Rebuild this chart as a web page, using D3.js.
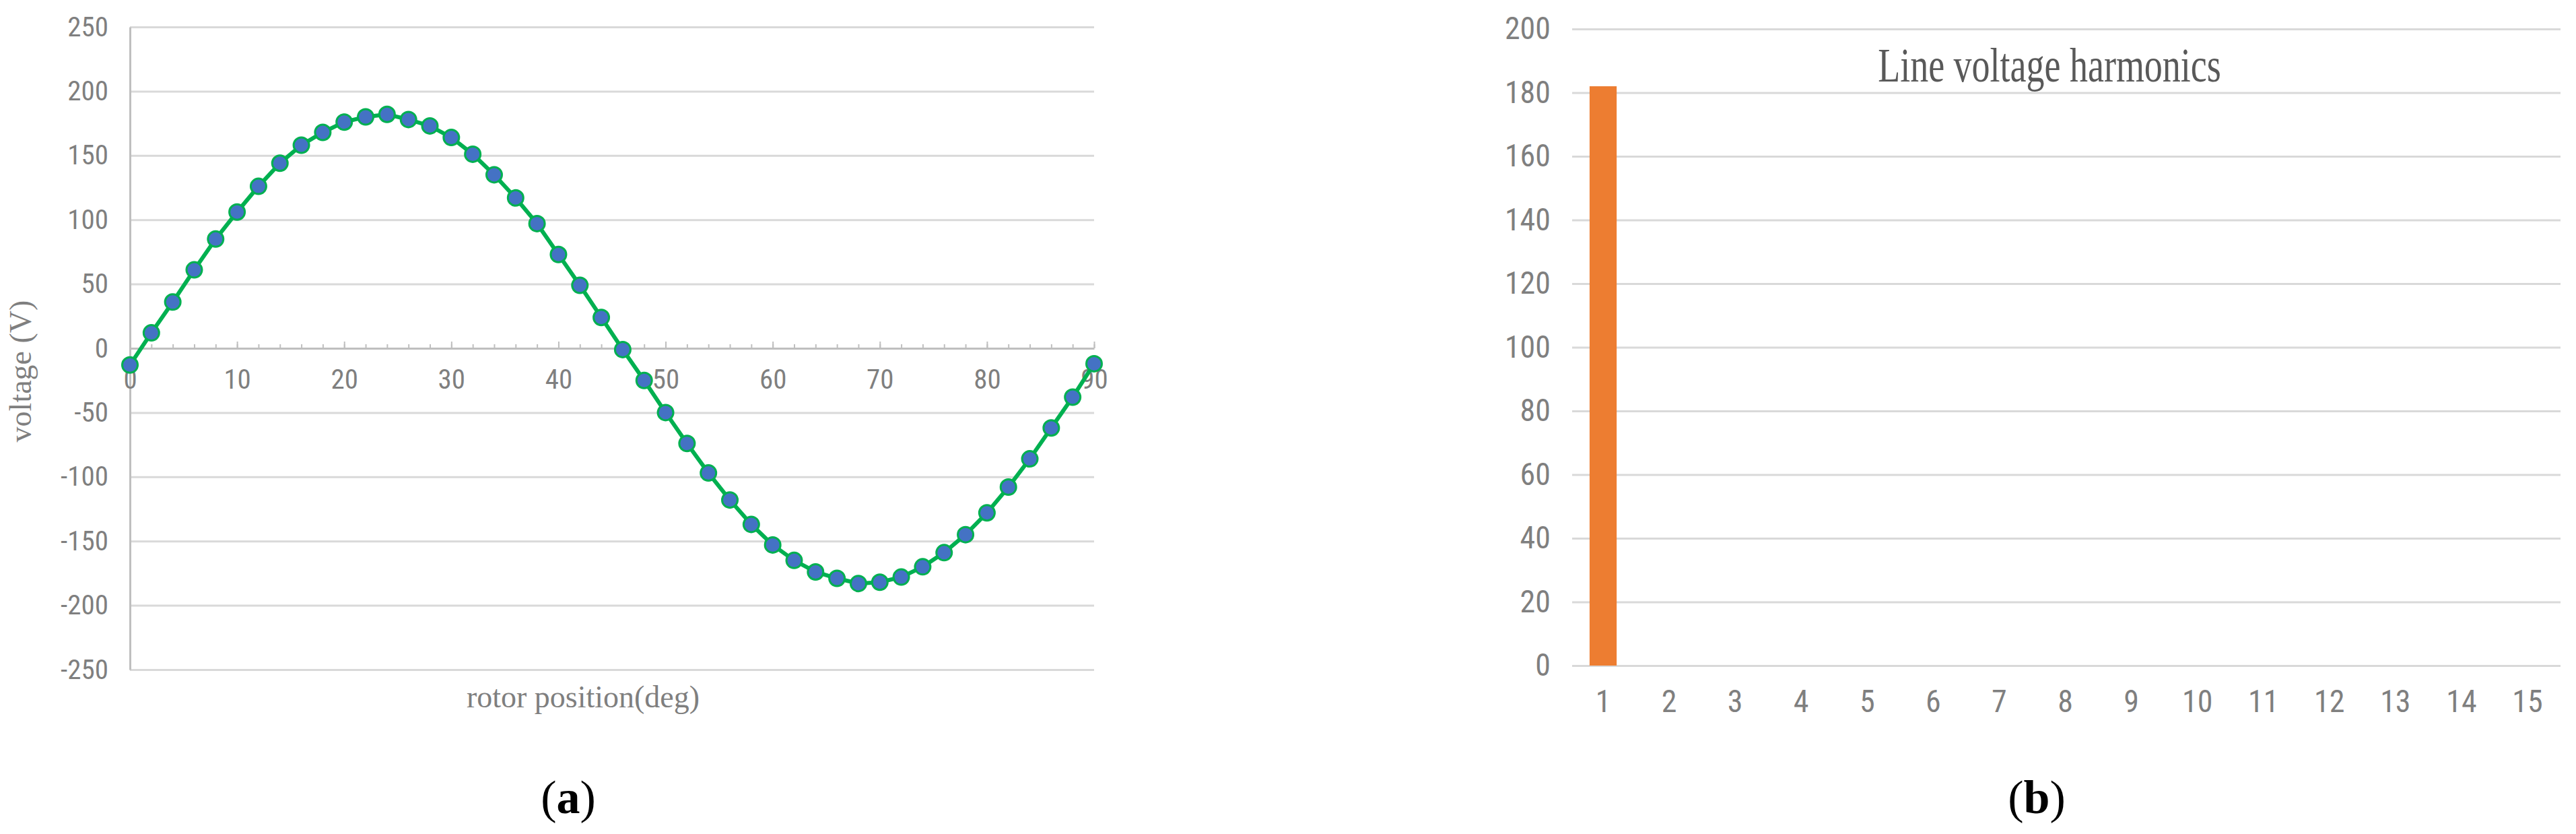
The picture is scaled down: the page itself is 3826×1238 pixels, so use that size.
<html>
  <head>
    <meta charset="utf-8">
    <script src="https://d3js.org/d3.v7.min.js"></script>
    <style>
      body { margin: 0; background: #fff; }
    </style>
  </head>
  <body>
    <script>
      // data
      var degrees = [0,2,4,6,8,10,12,14,16,18,20,22,24,26,28,30,32,34,36,38,40,42,44,
                     46,48,50,52,54,56,58,60,62,64,66,68,70,72,74,76,78,80,82,84,86,88,90]
      var voltage = [-13,12,36,61,85,106,126,144,158,168,176,180,182,178,173,164,151,135,117,97,73,49,24,
                     -1,-25,-50,-74,-97,-118,-137,-153,-165,-174,-179,-183,-182,-178,-170,-159,-145,-128,-108,-86,-62,-38,-12]
      var voltTicks = [-250,-200,-150,-100,-50,0,50,100,150,200,250]
      var degMajor = [0,10,20,30,40,50,60,70,80,90]
      var degMinor = d3.range(0, 91, 2)

      var orders = [1,2,3,4,5,6,7,8,9,10,11,12,13,14,15]
      var harmonics = [182,0,0,0,0,0,0,0,0,0,0,0,0,0,0]
      var harmTicks = [0,20,40,60,80,100,120,140,160,180,200]

      var width = 3826
      var height = 1238
      var numFont = "'Liberation Sans Narrow', 'Roboto Condensed', 'Liberation Sans', sans-serif"
      var serif = "'Liberation Serif', 'Times New Roman', serif"
      var grey = "#7f7f7f"

      var svg = d3.select("body").append("svg")
        .attr("width", width)
        .attr("height", height)

      svg.append("rect").attr("width", width).attr("height", height).attr("fill", "white")

      // ---------- (a) line chart ----------
      var x = d3.scaleLinear().domain([0, 90]).range([193, 1625])
      var y = d3.scaleLinear().domain([-250, 250]).range([994, 40])

      // grid
      svg.append("g")
        .attr("transform", "translate(193,0)")
        .call(d3.axisLeft(y).tickValues(voltTicks).tickSize(-(1625 - 193)).tickFormat(""))
        .call(g => g.select(".domain").remove())
        .selectAll("line").attr("stroke", "#d9d9d9").attr("stroke-width", 3)

      // y axis
      var ya = svg.append("g")
        .attr("transform", "translate(193,0)")
        .call(d3.axisLeft(y).tickValues(voltTicks).tickSize(0).tickSizeOuter(0).tickPadding(32)
          .tickFormat(d => d < 0 ? "-" + Math.abs(d) : d))
      ya.select(".domain").attr("stroke", "#bfbfbf").attr("stroke-width", 3)
      ya.selectAll("text").attr("font-family", numFont).attr("font-size", 41).attr("fill", grey)

      // x axis through zero, minor ticks upward
      var xm = svg.append("g")
        .attr("transform", "translate(0," + y(0) + ")")
        .call(d3.axisBottom(x).tickValues(degMinor).tickSize(-6).tickSizeOuter(0).tickFormat(""))
      xm.select(".domain").attr("stroke", "#bfbfbf").attr("stroke-width", 3)
      xm.selectAll("line").attr("stroke", "#bfbfbf").attr("stroke-width", 2)

      var xa = svg.append("g")
        .attr("transform", "translate(0," + y(0) + ")")
        .call(d3.axisBottom(x).tickValues(degMajor).tickSize(-10).tickSizeOuter(0).tickPadding(31))
      xa.select(".domain").remove()
      xa.selectAll("line").attr("stroke", "#bfbfbf").attr("stroke-width", 2)
      xa.selectAll("text").attr("font-family", numFont).attr("font-size", 41).attr("fill", grey)

      // line + markers
      var pts = degrees.map((d, i) => [d, voltage[i]])
      svg.append("path")
        .datum(pts)
        .attr("fill", "none")
        .attr("stroke", "#00b050")
        .attr("stroke-width", 6)
        .attr("d", d3.line().x(d => x(d[0])).y(d => y(d[1])))

      svg.selectAll("circle.pt")
        .data(pts)
        .enter().append("circle")
        .attr("class", "pt")
        .attr("cx", d => x(d[0]))
        .attr("cy", d => y(d[1]))
        .attr("r", 11.5)
        .attr("fill", "#4472c4")
        .attr("stroke", "#00b050")
        .attr("stroke-width", 3)

      // axis titles
      svg.append("text")
        .attr("transform", "translate(46,551) rotate(-90)")
        .attr("text-anchor", "middle")
        .attr("font-family", serif)
        .attr("font-size", 46)
        .attr("fill", grey)
        .text("voltage (V)")

      svg.append("text")
        .attr("x", 866)
        .attr("y", 1050)
        .attr("text-anchor", "middle")
        .attr("font-family", serif)
        .attr("font-size", 46)
        .attr("fill", grey)
        .text("rotor position(deg)")

      // ---------- (b) bar chart ----------
      var xb = d3.scaleBand().domain(orders).range([2332, 3803]).paddingInner(0.59).paddingOuter(0.295)
      var yb = d3.scaleLinear().domain([0, 200]).range([988, 43])

      svg.append("g")
        .attr("transform", "translate(2335,0)")
        .call(d3.axisLeft(yb).tickValues(harmTicks).tickSize(-(3803 - 2335)).tickFormat(""))
        .call(g => g.select(".domain").remove())
        .selectAll("line").attr("stroke", "#d9d9d9").attr("stroke-width", 3)

      var yba = svg.append("g")
        .attr("transform", "translate(2332,0)")
        .call(d3.axisLeft(yb).tickValues(harmTicks).tickSize(0).tickPadding(29))
      yba.select(".domain").remove()
      yba.selectAll("text").attr("font-family", numFont).attr("font-size", 46).attr("fill", grey)

      var xba = svg.append("g")
        .attr("transform", "translate(0,988)")
        .call(d3.axisBottom(xb).tickSize(0).tickPadding(36))
      xba.select(".domain").remove()
      xba.selectAll("text").attr("font-family", numFont).attr("font-size", 46).attr("fill", grey)

      svg.selectAll("rect.bar")
        .data(orders.map((o, i) => ({o: o, v: harmonics[i]})))
        .enter().append("rect")
        .attr("class", "bar")
        .attr("x", d => xb(d.o))
        .attr("width", xb.bandwidth())
        .attr("y", d => yb(d.v))
        .attr("height", d => yb(0) - yb(d.v))
        .attr("fill", "#ed7d31")

      svg.append("text")
        .attr("transform", "translate(3044,121) scale(1,1.35)")
        .attr("text-anchor", "middle")
        .attr("font-family", serif)
        .attr("font-size", 54)
        .attr("fill", "#595959")
        .text("Line voltage harmonics")

      // panel letters
      var letters = [["a", 844], ["b", 3025]]
      letters.forEach(function(l) {
        var t = svg.append("text")
          .attr("x", l[1])
          .attr("y", 1207)
          .attr("text-anchor", "middle")
          .attr("font-family", serif)
          .attr("font-size", 70)
          .attr("fill", "black")
        t.append("tspan").text("(")
        t.append("tspan").attr("font-weight", "bold").text(l[0])
        t.append("tspan").text(")")
      })
    </script>
  </body>
</html>
